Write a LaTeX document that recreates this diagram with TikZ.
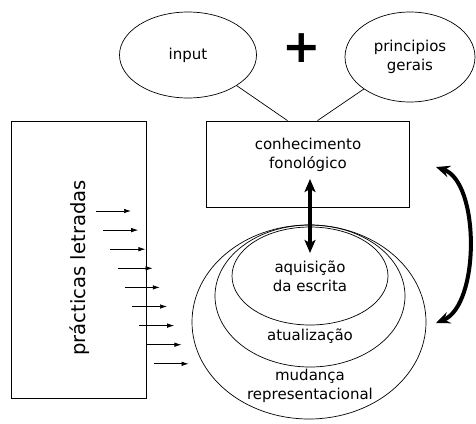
\documentclass[tikz,border=0pt]{standalone}
\usepackage{fontspec}
\setmainfont{DejaVu Sans}
\usetikzlibrary{shapes.geometric,arrows.meta}

\tikzset{
  oval/.style={draw,ellipse,line width=0.7pt,inner sep=0pt},
  caixa/.style={draw,rectangle,line width=0.8pt,inner sep=0pt},
  rotulo/.style={font=\fontsize{15}{19}\selectfont,align=center},
  seta/.tip={Stealth[length=14pt,width=12pt,inset=5pt]},
}

\begin{document}
\begin{tikzpicture}[x=1pt,y=-1pt]

\useasboundingbox (0,0) rectangle (476,423) ;

%top ovals
\node [oval,minimum width=137pt,minimum height=86pt,rotulo] (input) at (188,55) {input} ;
\node [oval,minimum width=130pt,minimum height=90pt,rotulo] (principios) at (410,57) {principios\\gerais} ;
\node [font=\fontsize{46}{46}\selectfont\bfseries] (mais) at (302,48) {+} ;

%box
\node [caixa,minimum width=203pt,minimum height=86pt] (conh) at (307.5,164) {} ;
\node [rotulo] (conhtxt) at (308,155) {conhecimento\\fonológico} ;

%lines into the box
\draw [line width=0.7pt] (input.south east) -- ([xshift=-20pt]conh.north) ;
\draw [line width=0.7pt] (principios.south west) -- ([xshift=10pt]conh.north) ;

%nested ovals
\node [oval,minimum width=234pt,minimum height=194pt] (mudanca) at (309,322) {} ;
\node [oval,minimum width=190pt,minimum height=142pt] (atual) at (310,296) {} ;
\node [oval,minimum width=156pt,minimum height=98pt,rotulo] (aquis) at (310,276) {aquisição\\da escrita} ;
\node [rotulo] (atualtxt) at (310,336) {atualização} ;
\node [rotulo] (mudtxt) at (310,386) {mudança\\representacional} ;

%double arrow
\coordinate (cima) at (310,179) ;
\coordinate (baixo) at (310,253) ;
\draw [{Stealth[length=13pt,width=11pt,inset=3pt]}-{Stealth[length=13pt,width=11pt,inset=3pt]},line width=3.4pt] (cima) -- (baixo) ;

%left box
\node [caixa,minimum width=135pt,minimum height=277pt] (praticas) at (78.5,259.5) {} ;
\node [rotate=90,font=\fontsize{19.6}{21}\selectfont] (pratxt) at (80,268) {prácticas letradas} ;

%small arrows
\foreach \i in {0,...,8}
  \draw [-{Latex[length=7pt,width=4.5pt]},line width=0.7pt] (96+7.2*\i,211+19.1*\i) -- ++(35,0) ;

%curved arrow
\coordinate (topo) at (436,167) ;
\coordinate (fundo) at (436,323) ;
\draw [seta-seta,line width=4pt]
  (topo) .. controls (480,182) and (480,305) .. (fundo) ;

\end{tikzpicture}
\end{document}
